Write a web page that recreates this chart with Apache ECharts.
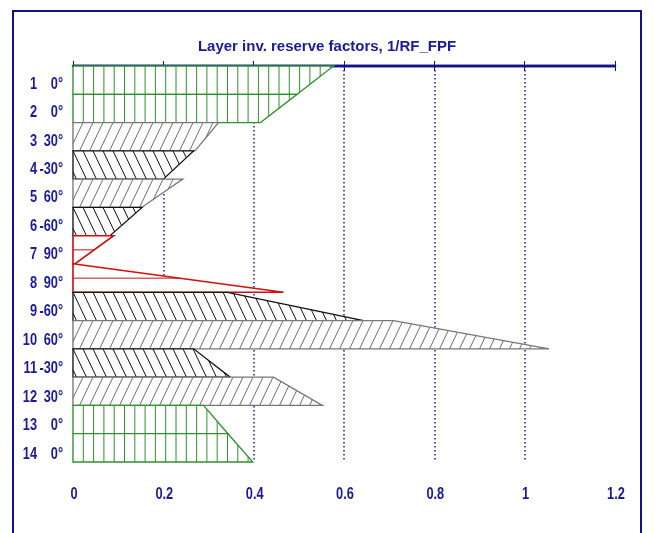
<!DOCTYPE html>
<html>
<head>
<meta charset="utf-8">
<script src="https://cdn.jsdelivr.net/npm/echarts@6/dist/echarts.min.js"></script>
<style>
  html, body { margin: 0; padding: 0; background: #ffffff; }
  #chart { width: 654px; height: 533px; }
</style>
</head>
<body>
<div id="chart"></div>
<script>
// Ply stack: layer number, ply angle and inverse reserve factor at top/bottom of each layer
const layerNo   = [1, 2, 3, 4, 5, 6, 7, 8, 9, 10, 11, 12, 13, 14];
const plyAngle  = [0, 0, 30, -30, 60, -60, 90, 90, -60, 60, -30, 30, 0, 0];
const rfTop     = [0.577, 0.496, 0.322, 0.267, 0.243, 0.153, 0.090, 0.004, 0.342, 0.710, 0.267, 0.444, 0.289, 0.343];
const rfBottom  = [0.496, 0.415, 0.270, 0.200, 0.152, 0.082, 0.004, 0.466, 0.643, 1.054, 0.348, 0.552, 0.343, 0.398];
const xTicks    = [0, 0.2, 0.4, 0.6, 0.8, 1, 1.2];

const NAVY = '#1a1a9a';
const FONT = '"Liberation Sans", Arial, sans-serif';
const NARROW = 0.8;   // horizontal squeeze for the condensed label face

// Fill style for each ply orientation
function plyStyle(angle) {
  if (angle === 0) return { color: '#2f922f', kind: 'vertical' };
  if (angle === 90 || angle === -90) return { color: '#cc1111', kind: 'horizontal' };
  if (angle > 0) return { color: '#6e6e6e', edge: '#777777', kind: 'slash' };
  return { color: '#111111', kind: 'backslash' };
}

// Intersection of an infinite line (A + t*D) with a convex polygon
function clipLine(A, D, poly) {
  const ts = [];
  for (let i = 0; i < poly.length; i++) {
    const q0 = poly[i], q1 = poly[(i + 1) % poly.length];
    const ex = q1[0] - q0[0], ey = q1[1] - q0[1];
    const den = D[0] * ey - D[1] * ex;
    if (Math.abs(den) < 1e-9) continue;
    const wx = q0[0] - A[0], wy = q0[1] - A[1];
    const t = (wx * ey - wy * ex) / den;
    const u = (wx * D[1] - wy * D[0]) / den;
    if (u >= -1e-6 && u <= 1 + 1e-6) ts.push(t);
  }
  if (ts.length < 2) return null;
  const t0 = Math.min.apply(null, ts), t1 = Math.max.apply(null, ts);
  if (t1 - t0 < 0.5) return null;
  return [[A[0] + t0 * D[0], A[1] + t0 * D[1]], [A[0] + t1 * D[0], A[1] + t1 * D[1]]];
}

// Condensed text element anchored at (x, y)
function narrowText(text, x, y, align, size) {
  return {
    type: 'text',
    x: x, y: y, scaleX: NARROW,
    style: {
      text: text, x: 0, y: 0,
      align: align, verticalAlign: 'middle',
      fill: NAVY, font: 'bold ' + size + 'px ' + FONT
    }
  };
}

function renderLayer(params, api) {
  const i = api.value(0);
  const top = api.value(1), bot = api.value(2), ang = api.value(3);
  const p0 = api.coord([0, i]);
  const p1 = api.coord([top, i]);
  const p2 = api.coord([bot, i + 1]);
  const p3 = api.coord([0, i + 1]);
  const poly = [p0, p1, p2, p3];
  const st = plyStyle(ang);
  const origin = api.coord([0, 0]);
  const children = [];

  children.push({ type: 'polygon', shape: { points: poly }, style: { fill: '#ffffff', stroke: null } });

  const lines = [];
  const h = p3[1] - p0[1];
  if (st.kind === 'vertical') {
    const d = 10.3;
    for (let x = origin[0] + d; x < Math.max(p1[0], p2[0]); x += d) {
      const s = clipLine([x, 0], [0, 1], poly);
      if (s) lines.push(s);
    }
  } else if (st.kind === 'horizontal') {
    const s = clipLine([0, p0[1] + h / 2], [1, 0], poly);
    if (s) lines.push(s);
  } else {
    const d = 10, slope = 2.1;
    const D = st.kind === 'slash' ? [1, -slope] : [1, slope];
    const maxX = Math.max(p1[0], p2[0]) + h;
    for (let x = origin[0] - 60; x < maxX + 60; x += d) {
      const s = clipLine([x, p0[1]], D, poly);
      if (s) lines.push(s);
    }
  }
  lines.forEach(function (s) {
    children.push({
      type: 'line',
      shape: { x1: s[0][0], y1: s[0][1], x2: s[1][0], y2: s[1][1] },
      style: { stroke: st.color, lineWidth: 1 }
    });
  });

  children.push({
    type: 'polygon',
    shape: { points: poly },
    style: { fill: null, stroke: st.edge || st.color, lineWidth: st.kind === 'horizontal' ? 1.6 : 1.3 }
  });

  // layer number and ply angle on the left
  const mid = api.coord([0, i + 0.5]);
  const ty = mid[1] + 4 + i * 0.19;
  children.push(narrowText(String(layerNo[i]), mid[0] - 36, ty, 'right', 16));
  children.push(narrowText(plyAngle[i] + '°', mid[0] - 10, ty, 'right', 16));

  return { type: 'group', children: children };
}

// Tick values below the bottom axis
function renderTickLabel(params, api) {
  const v = api.value(0);
  const p = api.coord([v, 14]);
  return narrowText(String(xTicks[params.dataIndex]), p[0] + 1, p[1] + 33, 'center', 16);
}

const chart = echarts.init(document.getElementById('chart'), null, { renderer: 'canvas' });

chart.setOption({
  animation: false,
  backgroundColor: '#ffffff',
  title: {
    text: 'Layer inv. reserve factors, 1/RF_FPF',
    left: 'center',
    top: 34,
    textStyle: { color: NAVY, fontSize: 15, fontWeight: 'bold', fontFamily: FONT }
  },
  graphic: [{
    type: 'rect',
    shape: { x: 13, y: 11, width: 628, height: 540 },
    style: { fill: null, stroke: '#10108c', lineWidth: 2 },
    silent: true
  }],
  grid: { left: 73, right: 39, top: 66, bottom: 71 },
  xAxis: [{
    type: 'value', position: 'bottom', min: 0, max: 1.2, interval: 0.2,
    axisLine: { show: true, lineStyle: { color: '#12128e', width: 2.4 } },
    axisTick: { show: true, inside: false, length: 5, lineStyle: { color: '#12128e', width: 1 } },
    axisLabel: { show: false },
    splitLine: {
      show: true, showMinLine: false, showMaxLine: false,
      lineStyle: { color: '#1a1a9a', width: 1.5, type: [1.6, 2.4] }
    }
  }, {
    type: 'value', position: 'top', min: 0, max: 1.2, interval: 0.2,
    axisLine: { show: true, lineStyle: { color: '#12128e', width: 2.4 } },
    axisTick: { show: true, inside: false, length: 5, lineStyle: { color: '#12128e', width: 1 } },
    axisLabel: { show: false },
    splitLine: { show: false }
  }],
  yAxis: [{
    type: 'value', min: 0, max: 14, inverse: true,
    axisLine: { show: false }, axisTick: { show: false },
    axisLabel: { show: false }, splitLine: { show: false }
  }, {
    type: 'value', min: 0, max: 14, inverse: true, position: 'right',
    axisLine: { show: true, lineStyle: { color: '#12128e', width: 1.2 } },
    axisTick: { show: false }, axisLabel: { show: false }, splitLine: { show: false }
  }],
  series: [{
    type: 'custom',
    xAxisIndex: 0,
    yAxisIndex: 0,
    renderItem: renderLayer,
    encode: { x: [1, 2], y: 0 },
    clip: false,
    data: layerNo.map(function (n, i) { return [i, rfTop[i], rfBottom[i], plyAngle[i]]; })
  }, {
    type: 'custom',
    xAxisIndex: 0,
    yAxisIndex: 0,
    renderItem: renderTickLabel,
    encode: { x: 0 },
    clip: false,
    data: xTicks.map(function (v) { return [v]; })
  }]
});
</script>
</body>
</html>
